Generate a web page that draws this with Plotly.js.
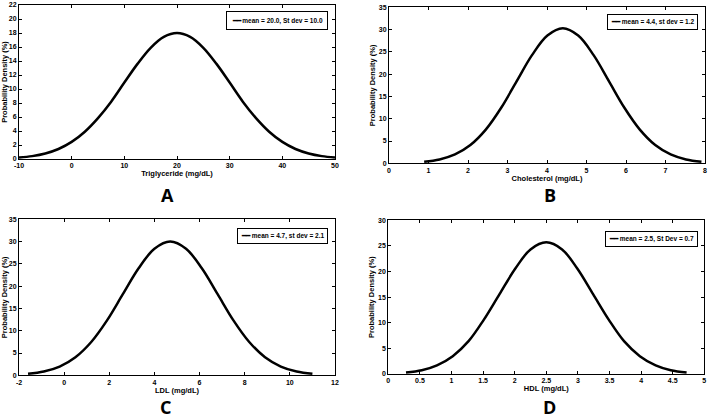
<!DOCTYPE html>
<html><head><meta charset="utf-8">
<script src="https://cdn.plot.ly/plotly-3.0.1.min.js"></script>
<style>html,body{margin:0;padding:0;background:#fff}#c{width:709px;height:418px}</style>
</head><body><div id="c"></div>
<script>
// Panel A: Triglyceride
const trigX = [-10,-7.5,-5,-2.5,0,2.5,5,7.5,10,12.5,15,17.5,20,22.5,25,27.5,30,32.5,35,37.5,40,42.5,45,47.5,50];
const trigY = [0.20,0.41,0.79,1.43,2.44,3.90,5.84,8.19,10.92,13.59,15.89,17.45,18.0,17.45,15.89,13.59,10.92,8.19,5.84,3.90,2.44,1.43,0.79,0.41,0.20];
// Panel B: Cholesterol
const cholX = [0.89,1.28,1.67,2.06,2.45,2.84,3.23,3.62,4.01,4.4,4.79,5.18,5.57,5.96,6.35,6.74,7.13,7.52,7.91];
const cholY = [0.34,0.87,1.99,4.10,7.56,12.46,18.38,24.26,28.66,30.3,28.66,24.26,18.38,12.46,7.56,4.10,1.99,0.87,0.34];
// Panel C: LDL
const ldlX = [-1.6,-0.9,-0.2,0.5,1.2,1.9,2.6,3.3,4.0,4.7,5.4,6.1,6.8,7.5,8.2,8.9,9.6,10.3,11.0];
const ldlY = [0.33,0.86,1.97,4.06,7.48,12.33,18.20,24.02,28.38,30.0,28.38,24.02,18.20,12.33,7.48,4.06,1.97,0.86,0.33];
// Panel D: HDL
const hdlX = [0.28,0.53,0.77,1.02,1.27,1.51,1.76,2.01,2.25,2.5,2.75,2.99,3.24,3.49,3.73,3.98,4.23,4.47,4.72];
const hdlY = [0.29,0.74,1.69,3.48,6.41,10.57,15.59,20.58,24.31,25.7,24.31,20.58,15.59,10.57,6.41,3.48,1.69,0.74,0.29];

const legendNames = ["mean = 20.0, St dev = 10.0","mean = 4.4, st dev = 1.2","mean = 4.7, st dev = 2.1","mean = 2.5, St Dev = 0.7"];
const xTitles = ["Triglyceride (mg/dL)","Cholesterol (mg/dL)","LDL (mg/dL)","HDL (mg/dL)"];
const yTitle = "Probability Density (%)";
const panelLetters = ["A","B","C","D"];
const xTickVals = [[-10,0,10,20,30,40,50],[0,1,2,3,4,5,6,7,8],[-2,0,2,4,6,8,10,12],[0,0.5,1,1.5,2,2.5,3,3.5,4,4.5,5]];
const xTickText = [["-10","0","10","20","30","40","50"],["0","1","2","3","4","5","6","7","8"],["-2","0","2","4","6","8","10","12"],["0","0.5","1","1.5","2","2.5","3","3.5","4","4.5","5"]];
const yTickVals = [[0,2,4,6,8,10,12,14,16,18,20,22],[0,5,10,15,20,25,30,35],[0,5,10,15,20,25,30,35],[0,5,10,15,20,25,30]];

const xs=[trigX,cholX,ldlX,hdlX], ys=[trigY,cholY,ldlY,hdlY];
const xRanges=[[-10,50],[0,8],[-2,12],[0,5]];
const yRanges=[[0,22],[0,35],[0,35],[0,30]];
const W=709,H=418;
const boxes=[ // left,right,top,bottom in px
 [19,335,5,159],[389,705,7.3,163.3],[19,335,219.3,375.3],[388.3,704.3,220.3,374]];
const tf={family:"Liberation Sans, Arial, sans-serif",size:7,color:"#000",weight:"bold"};

const data=[]; const layout={width:W,height:H,margin:{l:0,r:0,t:0,b:0},paper_bgcolor:"#fff",plot_bgcolor:"#fff",showlegend:false,annotations:[],font:tf};
for(let i=0;i<4;i++){
  const s=i===0?"":String(i+1);
  data.push({x:xs[i],y:ys[i],type:"scatter",mode:"lines",name:legendNames[i],line:{color:"#000",width:2.5,shape:"spline"},xaxis:"x"+s,yaxis:"y"+s,hoverinfo:"skip"});
  const b=boxes[i];
  const ax={showline:true,linecolor:"#000",linewidth:1,mirror:"ticks",ticks:"inside",ticklen:3,tickcolor:"#000",showgrid:false,zeroline:false,tickfont:tf,fixedrange:true};
  layout["xaxis"+s]=Object.assign({},ax,{domain:[b[0]/W,b[1]/W],range:xRanges[i],anchor:"y"+s,tickvals:xTickVals[i],ticktext:xTickText[i],title:{text:xTitles[i],font:Object.assign({},tf,{size:7.5}),standoff:1}});
  layout["yaxis"+s]=Object.assign({},ax,{domain:[1-b[3]/H,1-b[2]/H],range:yRanges[i],anchor:"x"+s,tickvals:yTickVals[i],title:{text:yTitle,font:Object.assign({},tf,{size:7.5}),standoff:2}});
}
const legPos=[[327.7,20.2,4.5],[698.3,22.3,3],[327.7,236.4,3],[698.3,239.5,3]];
for(let i=0;i<4;i++){
  const p=legPos[i];
  layout.annotations.push({xref:"paper",yref:"paper",x:p[0]/W,y:1-p[1]/H,xanchor:"right",yanchor:"middle",showarrow:false,
    text:"<b>\u2501\u2501</b> "+legendNames[i],font:Object.assign({},tf,{size:6.5}),bordercolor:"#000",borderwidth:1,borderpad:p[2],bgcolor:"#fff"});
}
const letterPos=[[167.5,195],[550,195],[165,407],[549,407]];
for(let i=0;i<4;i++){
  layout.annotations.push({xref:"paper",yref:"paper",x:letterPos[i][0]/W,y:1-letterPos[i][1]/H,xanchor:"center",yanchor:"middle",showarrow:false,
    text:panelLetters[i],font:{family:"Open Sans, sans-serif",size:18,color:"#000",weight:"bold"}});
}
Plotly.newPlot("c",data,layout,{staticPlot:true,displayModeBar:false});
</script></body></html>
